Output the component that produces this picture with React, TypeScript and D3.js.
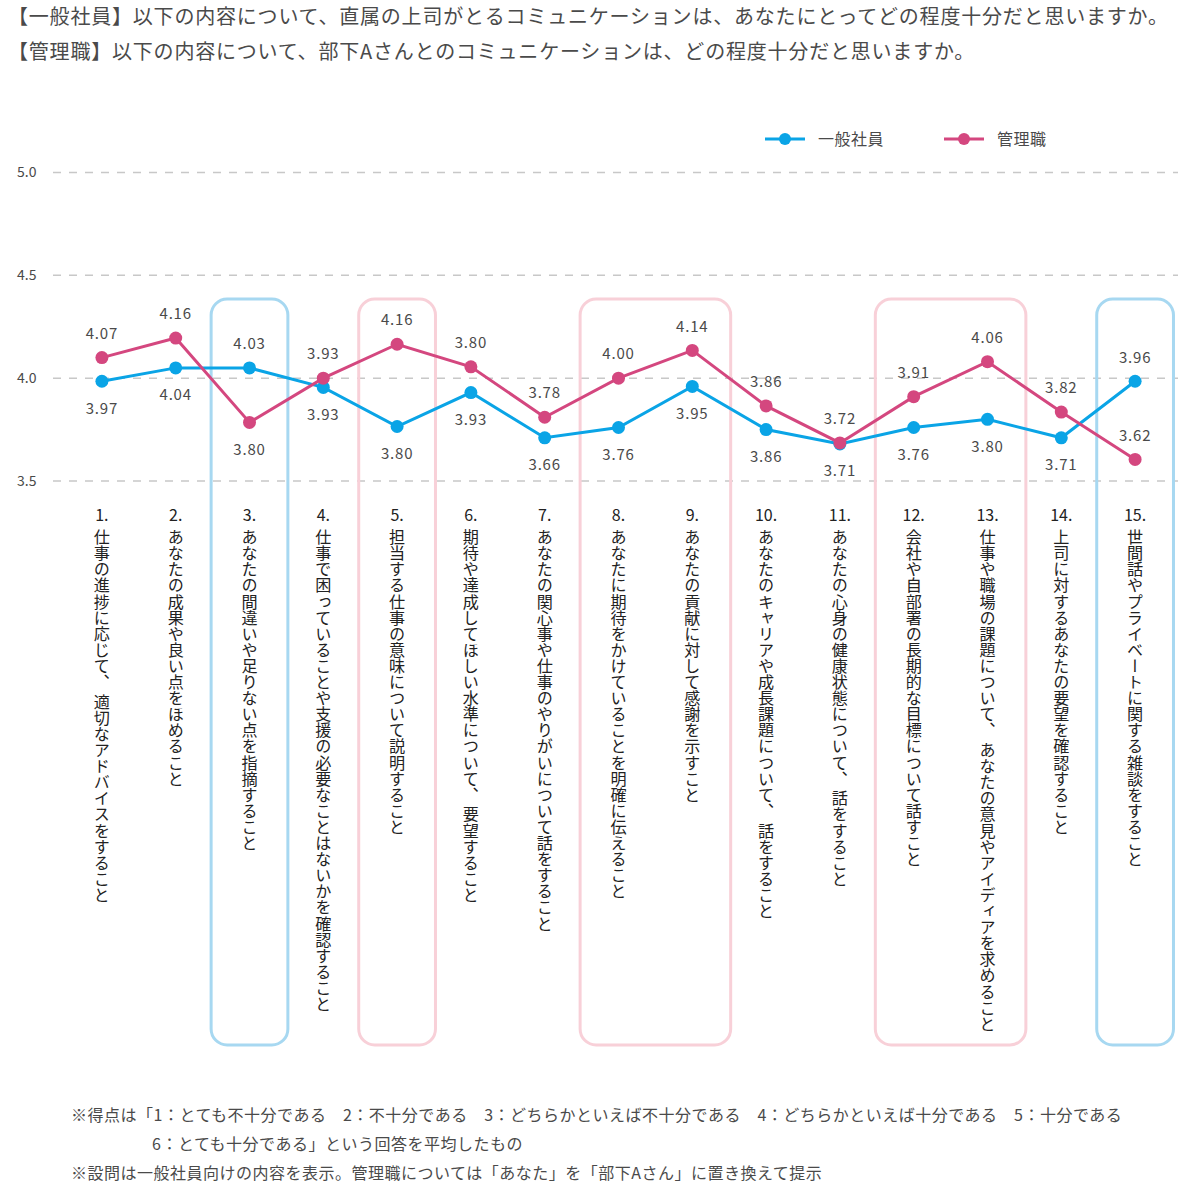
import React from "react";
import * as d3 from "d3";

const titleLines = [
  "【一般社員】以下の内容について、直属の上司がとるコミュニケーションは、あなたにとってどの程度十分だと思いますか。",
  "【管理職】以下の内容について、部下Aさんとのコミュニケーションは、どの程度十分だと思いますか。",
];

const catNums = ["1.", "2.", "3.", "4.", "5.", "6.", "7.", "8.", "9.", "10.", "11.", "12.", "13.", "14.", "15."];
const catTexts = [
  "仕事の進捗に応じて、 適切なアドバイスをすること",
  "あなたの成果や良い点をほめること",
  "あなたの間違いや足りない点を指摘すること",
  "仕事で困っていることや支援の必要なことはないかを確認すること",
  "担当する仕事の意味について説明すること",
  "期待や達成してほしい水準について、 要望すること",
  "あなたの関心事や仕事のやりがいについて話をすること",
  "あなたに期待をかけていることを明確に伝えること",
  "あなたの貢献に対して感謝を示すこと",
  "あなたのキャリアや成長課題について、 話をすること",
  "あなたの心身の健康状態について、 話をすること",
  "会社や自部署の長期的な目標について話すこと",
  "仕事や職場の課題について、 あなたの意見やアイディアを求めること",
  "上司に対するあなたの要望を確認すること",
  "世間話やプライベートに関する雑談をすること",
];

const seriesNames = ["一般社員", "管理職"];
// marker positions as drawn in the picture
const staffValues = [3.985, 4.05, 4.05, 3.955, 3.765, 3.93, 3.71, 3.76, 3.96, 3.75, 3.68, 3.76, 3.8, 3.71, 3.985];
const managerValues = [4.1, 4.195, 3.785, 4.0, 4.165, 4.055, 3.81, 4.0, 4.135, 3.865, 3.685, 3.91, 4.08, 3.835, 3.605];
// printed value labels
const staffLabels = ["3.97", "4.04", "4.03", "3.93", "3.80", "3.93", "3.66", "3.76", "3.95", "3.86", "3.71", "3.76", "3.80", "3.71", "3.96"];
const managerLabels = ["4.07", "4.16", "3.80", "3.93", "4.16", "3.80", "3.78", "4.00", "4.14", "3.86", "3.72", "3.91", "4.06", "3.82", "3.62"];
// label side: 1 = above the point, -1 = below
const staffLabelSide = [-1, -1, 1, -1, -1, -1, -1, -1, -1, -1, -1, -1, -1, -1, 1];
const managerLabelSide = [1, 1, -1, 1, 1, 1, 1, 1, 1, 1, 1, 1, 1, 1, 1];

const yTicks = [3.5, 4.0, 4.5, 5.0];

// highlighted groups (category indices) and their kind
const highlightGroups: { from: number; to: number; kind: "staff" | "manager" }[] = [
  { from: 2, to: 2, kind: "staff" },
  { from: 4, to: 4, kind: "manager" },
  { from: 7, to: 8, kind: "manager" },
  { from: 11, to: 12, kind: "manager" },
  { from: 14, to: 14, kind: "staff" },
];

const footnotes = [
  "※得点は「1：とても不十分である　2：不十分である　3：どちらかといえば不十分である　4：どちらかといえば十分である　5：十分である",
  "6：とても十分である」という回答を平均したもの",
  "※設問は一般社員向けの内容を表示。管理職については「あなた」を「部下Aさん」に置き換えて提示",
];

const BLUE = "#0aa4e6";
const PINK = "#d4477f";
const BOX_BLUE = "#a7d8f1";
const BOX_PINK = "#f8d0d8";
const TEXT = "#4a4a4a";
const FONT = "'Noto Sans CJK JP', 'Noto Sans', sans-serif";

export default function App() {
  const W = 1200;
  const H = 1199;
  const x = d3.scaleBand<string>().domain(catNums).range([65, 1172]).padding(0);
  const bw = x.bandwidth();
  const cx = (i: number) => (x(catNums[i]) as number) + bw / 2;
  const y = d3.scaleLinear().domain([3.5, 5.0]).range([481, 172.5]);

  const line = d3
    .line<number>()
    .x((_, i) => cx(i))
    .y((d) => y(d));

  const series = [
    { name: seriesNames[0], values: staffValues, labels: staffLabels, color: BLUE, side: staffLabelSide },
    { name: seriesNames[1], values: managerValues, labels: managerLabels, color: PINK, side: managerLabelSide },
  ];

  const boxPad = bw * 0.52;

  return (
    <svg
      width={W}
      height={H}
      viewBox={`0 0 ${W} ${H}`}
      style={{ position: "absolute", left: 0, top: 0, background: "#fff", fontFamily: FONT }}
    >
      <rect x={0} y={0} width={W} height={H} fill="#fff" />
      {/* title */}
      {titleLines.map((t, i) => (
        <text key={i} x={8} y={24 + i * 35} fontSize={20} letterSpacing={0.8} fill={TEXT}>
          {t}
        </text>
      ))}

      {/* legend */}
      {series.map((s, i) => {
        const lx = i === 0 ? 765 : 944;
        return (
          <g key={s.name}>
            <line x1={lx} x2={lx + 40} y1={139} y2={139} stroke={s.color} strokeWidth={3} />
            <circle cx={lx + 20} cy={139} r={6} fill={s.color} />
            <text x={lx + 53} y={139} dy="0.35em" fontSize={16} letterSpacing={0.5} fill={TEXT}>
              {s.name}
            </text>
          </g>
        );
      })}

      {/* gridlines + y labels */}
      {yTicks.map((t) => (
        <g key={t}>
          <line
            x1={53}
            x2={1178}
            y1={y(t)}
            y2={y(t)}
            stroke="#c8c8c8"
            strokeWidth={1.5}
            strokeDasharray="8 8"
          />
          <text x={17} y={y(t)} dy="0.35em" fontSize={14} fill={TEXT}>
            {t.toFixed(1)}
          </text>
        </g>
      ))}

      {/* highlight boxes */}
      {highlightGroups.map((g, i) => {
        const x0 = cx(g.from) - boxPad;
        const x1 = cx(g.to) + boxPad;
        return (
          <rect
            key={i}
            x={x0}
            y={299}
            width={x1 - x0}
            height={746}
            rx={16}
            ry={16}
            fill="none"
            stroke={g.kind === "staff" ? BOX_BLUE : BOX_PINK}
            strokeWidth={3}
          />
        );
      })}

      {/* lines */}
      {series.map((s) => (
        <path key={s.name} d={line(s.values) || ""} fill="none" stroke={s.color} strokeWidth={3} />
      ))}
      {series.map((s) =>
        s.values.map((v, i) => (
          <circle key={s.name + i} cx={cx(i)} cy={y(v)} r={6.5} fill={s.color} />
        ))
      )}

      {/* value labels */}
      {series.map((s) =>
        s.values.map((v, i) => (
          <text
            key={"l" + s.name + i}
            x={cx(i)}
            y={y(v) + (s.side[i] > 0 ? -24 : 27)}
            dy="0.35em"
            textAnchor="middle"
            fontSize={15}
            letterSpacing={0.8}
            fill={TEXT}
          >
            {s.labels[i]}
          </text>
        ))
      )}

      {/* category labels */}
      {catNums.map((n, i) => (
        <g key={n}>
          <text x={cx(i)} y={521} textAnchor="middle" fontSize={16} fill="#222">
            {n}
          </text>
          <text
            x={cx(i)}
            y={529}
            fontSize={16.1}
            fill="#222"
            style={{ writingMode: "vertical-rl" as any }}
          >
            {catTexts[i]}
          </text>
        </g>
      ))}

      {/* footnotes */}
      <text x={71} y={1121} fontSize={16} letterSpacing={0.5} fill={TEXT}>
        {footnotes[0]}
      </text>
      <text x={152} y={1150} fontSize={16} letterSpacing={0.5} fill={TEXT}>
        {footnotes[1]}
      </text>
      <text x={71} y={1179} fontSize={16} letterSpacing={0.5} fill={TEXT}>
        {footnotes[2]}
      </text>
    </svg>
  );
}
